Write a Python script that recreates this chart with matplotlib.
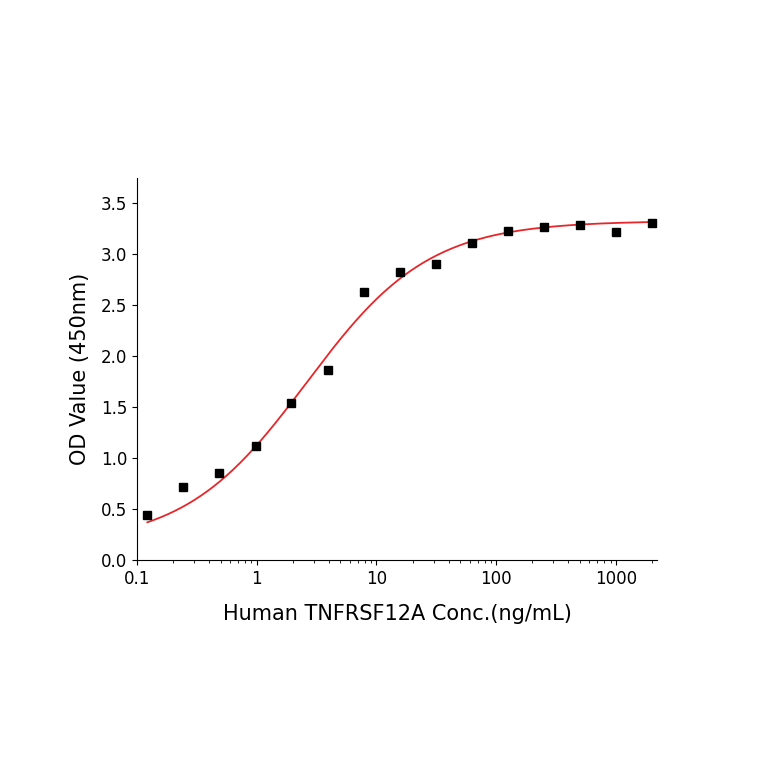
import matplotlib
matplotlib.use('Agg')
import matplotlib.pyplot as plt
import numpy as np

conc = [0.122, 0.244, 0.488, 0.977, 1.95, 3.9, 7.8, 15.6, 31.25, 62.5, 125, 250, 500, 1000, 2000]
od = [0.44, 0.71, 0.85, 1.12, 1.54, 1.86, 2.62, 2.82, 2.90, 3.10, 3.22, 3.26, 3.28, 3.21, 3.30]

# 4-parameter logistic fit parameters (estimated from the curve)
bottom, top, ec50, hill = 0.15, 3.32, 2.6, 0.85

fig = plt.figure(figsize=(7.64, 7.64), dpi=100)
ax = fig.add_axes([137/764, 1 - 560/764, 520/764, 382/764])

xs = np.logspace(np.log10(0.122), np.log10(2000), 300)
ys = bottom + (top - bottom) / (1 + (ec50 / xs) ** hill)
ax.plot(xs, ys, color='#e8262a', linewidth=1.3)
ax.plot(conc, od, 's', color='black', markersize=6)

ax.set_xscale('log')
ax.set_xlim(0.1, 2200)
ax.set_ylim(0, 3.74)
ax.set_xticks([0.1, 1, 10, 100, 1000])
ax.set_xticklabels(['0.1', '1', '10', '100', '1000'])
ax.set_yticks(np.arange(0, 3.6, 0.5))
ax.set_yticklabels(['%.1f' % v for v in np.arange(0, 3.6, 0.5)])
ax.tick_params(labelsize=12)
ax.spines['top'].set_visible(False)
ax.spines['right'].set_visible(False)

ax.set_xlabel('Human TNFRSF12A Conc.(ng/mL)', fontsize=15, labelpad=12)
ax.set_ylabel('OD Value (450nm)', fontsize=15, labelpad=8)

fig.savefig('out.png', dpi=100)
